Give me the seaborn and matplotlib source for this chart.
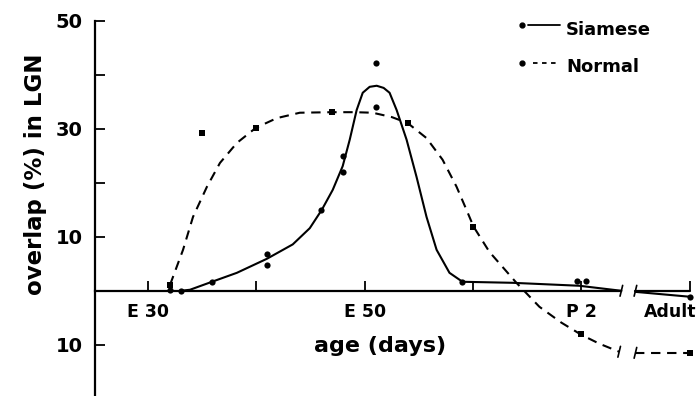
import matplotlib
matplotlib.use("Agg")
import matplotlib.pyplot as plt
import matplotlib.transforms as mtransforms
import seaborn as sns

# ---- data ----
# measured points
siamese_day = [32, 33, 35.9, 41, 41, 46, 48, 48, 51, 51, 59, 69.6, 70.4, 80]
siamese_val = [0.2, 0, 1.7, 6.85, 4.8, 15.0, 25.0, 22.0, 42.2, 34.1, 1.7, 1.85, 1.85, -1.1]
normal_day = [32, 35, 40, 47, 54, 60, 70, 80]
normal_val = [1.1, 29.3, 30.2, 33.1, 31.1, 11.9, -8.0, -11.5]

# hand-fitted curves (as drawn in the figure)
siamese_curve_day = [33.0, 33.87, 35.9, 38.2, 40.97, 43.36, 44.93, 46.04, 47.05, 47.97, 48.62,
                     49.26, 49.82, 50.46, 51.11, 51.75, 52.3, 52.95, 53.87, 54.79, 55.71,
                     56.64, 57.83, 59.03, 63.64, 69.82, 73.7]
siamese_curve_val = [0.0, 0.19, 1.67, 3.33, 5.93, 8.6, 11.6, 15.0, 18.7, 23.1, 28.0,
                     33.5, 36.7, 37.8, 38.0, 37.6, 36.7, 33.5, 28.0, 21.1, 13.7,
                     7.6, 3.33, 1.67, 1.48, 0.93, 0.0]
siamese_adult_day = [75.0, 80.0]
siamese_adult_val = [-0.2, -1.1]

normal_curve_day = [32.03, 33.23, 34.15, 35.44, 36.64, 38.2, 39.95, 41.89, 44.01, 46.96, 49.08,
                    50.74, 52.49, 53.96, 55.71, 57.19, 58.48, 59.4, 60.05, 61.52, 64.01,
                    66.13, 68.16, 70.0, 71.66, 73.5]
normal_curve_val = [1.11, 7.6, 13.7, 19.3, 23.7, 27.4, 30.2, 32.0, 33.0, 33.1, 33.1,
                    33.0, 32.2, 31.1, 28.3, 24.3, 19.3, 15.0, 11.9, 7.2, 1.48,
                    -2.96, -5.9, -8.15, -9.8, -11.3]
normal_adult_day = [75.0, 80.0]
normal_adult_val = [-11.5, -11.5]

x_ticks = [30, 40, 50, 60, 70, 80]
x_ticklabels = ["E 30", "", "E 50", "", "P 2", "Adult"]
y_ticks = [-10, 0, 10, 20, 30, 40, 50]
y_ticklabels = ["10", "", "10", "", "30", "", "50"]

# ---- plotting ----
sns.set_style("white")
plt.rcParams["font.family"] = ["DejaVu Sans"]
plt.rcParams["text.color"] = "black"
plt.rcParams["axes.labelcolor"] = "black"

fig = plt.figure(figsize=(6.96, 3.96), dpi=100)
ax = fig.add_axes([95 / 696, 0.0, 600 / 696, 375 / 396])

lw = 1.5
c = "black"
for d, v in [(siamese_curve_day, siamese_curve_val), (siamese_adult_day, siamese_adult_val),
             (normal_curve_day, normal_curve_val), (normal_adult_day, normal_adult_val)]:
    sns.lineplot(x=d, y=v, ax=ax, sort=False, color=c, lw=lw, estimator=None, zorder=3)
for ln in ax.lines[2:4]:
    ln.set_linestyle((0, (4.5, 3.2)))

sns.scatterplot(x=siamese_day, y=siamese_val, ax=ax, color=c, marker="o", s=20,
                edgecolor=c, linewidth=0, zorder=4)
sns.scatterplot(x=normal_day, y=normal_val, ax=ax, color=c, marker="s", s=15,
                edgecolor=c, linewidth=0, zorder=4)

ax.set_xlim(25.1, 80.5)
ax.set_ylim(-19.5, 50)

# axes styling
for s in ["top", "right"]:
    ax.spines[s].set_visible(False)
for s in ["left", "bottom"]:
    ax.spines[s].set_color(c)
    ax.spines[s].set_linewidth(1.6)
ax.spines["left"].set_bounds(-19.5, 50)
ax.spines["bottom"].set_position(("data", 0))
ax.spines["bottom"].set_bounds(25.1, 73.7)
# adult segment of the broken x axis
ax.plot([75.0, 80.0], [0, 0], color=c, lw=1.6, zorder=2, clip_on=False)
# break marks
for bx, by in [(73.7, 0), (75.0, 0), (73.5, -11.3), (75.0, -11.5)]:
    ax.plot([bx - 0.12, bx + 0.12], [by - 1.0, by + 1.0], color=c, lw=1.2, zorder=3)

ax.set_xticks(x_ticks)
ax.set_xticklabels(x_ticklabels)
ax.set_yticks(y_ticks)
ax.set_yticklabels(y_ticklabels)
ax.tick_params(axis="x", bottom=True, direction="in", length=7, width=1.3, pad=9,
               labelsize=12.5, colors=c)
ax.tick_params(axis="y", left=True, direction="in", length=7, width=1.3, pad=9,
               labelsize=14, colors=c)
for t in ax.get_xticklabels() + ax.get_yticklabels():
    t.set_fontweight("bold")
# keep "Adult" inside the figure: right-align it at its tick
adult_lbl = ax.get_xticklabels()[-1]
adult_lbl.set_horizontalalignment("right")
adult_lbl.set_transform(adult_lbl.get_transform() +
                        mtransforms.ScaledTranslation(7 / 100, 0, fig.dpi_scale_trans))

ax.set_xlabel("")
ax.set_ylabel("")
fig.text(380 / 696, 1 - 346 / 396, "age (days)", ha="center", va="center",
         fontsize=16, fontweight="bold", color=c)
fig.text(36 / 696, 1 - 174 / 396, "overlap (%) in LGN", ha="center", va="center",
         rotation=90, fontsize=16.5, fontweight="bold", color=c)

# legend (drawn manually to copy the original layout)
tr = ax.transAxes
ax.plot([0.7117], [0.9893], marker="o", ms=3.5, color=c, transform=tr, clip_on=False)
ax.plot([0.7217, 0.775], [0.9893, 0.9893], color=c, lw=1.3, transform=tr, clip_on=False)
ax.text(0.785, 0.977, "Siamese", transform=tr, fontsize=13, fontweight="bold", va="center",
        color=c)
ax.plot([0.7117], [0.888], marker="o", ms=3.5, color=c, transform=tr, clip_on=False)
ax.plot([0.73, 0.775], [0.888, 0.888], color=c, lw=1.3, ls=(0, (2.5, 2.5)),
        transform=tr, clip_on=False)
ax.text(0.785, 0.877, "Normal", transform=tr, fontsize=13, fontweight="bold", va="center",
        color=c)

fig.savefig("out.png", dpi=100)
